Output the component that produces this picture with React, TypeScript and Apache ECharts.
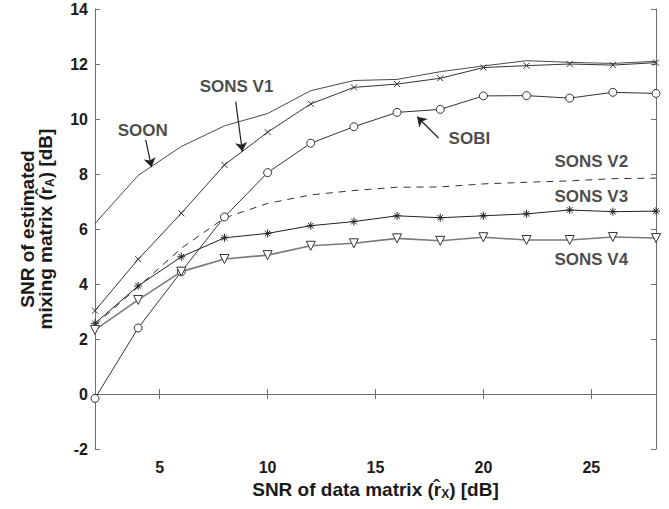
import React, { useEffect, useRef } from "react";
import * as echarts from "echarts";

const xValues = [2, 4, 6, 8, 10, 12, 14, 16, 18, 20, 22, 24, 26, 28];
const soon = [6.2, 7.95, 9.0, 9.75, 10.2, 11.03, 11.4, 11.44, 11.72, 11.93, 12.12, 12.06, 12.02, 12.1];
const sonsV1 = [3.03, 4.9, 6.57, 8.33, 9.52, 10.55, 11.15, 11.27, 11.48, 11.87, 11.94, 12.0, 11.96, 12.05];
const sobi = [-0.16, 2.4, 4.45, 6.44, 8.05, 9.12, 9.72, 10.24, 10.35, 10.84, 10.85, 10.76, 10.97, 10.93];
const sonsV2 = [2.5, 3.9, 5.3, 6.4, 6.93, 7.24, 7.4, 7.52, 7.53, 7.64, 7.7, 7.75, 7.83, 7.85];
const sonsV3 = [2.57, 3.93, 4.99, 5.68, 5.84, 6.12, 6.27, 6.48, 6.41, 6.48, 6.55, 6.69, 6.63, 6.65];
const sonsV4 = [2.33, 3.42, 4.45, 4.91, 5.05, 5.39, 5.48, 5.66, 5.57, 5.7, 5.6, 5.6, 5.71, 5.67];

const xTicks = [5, 10, 15, 20, 25];
const yTicks = [-2, 0, 2, 4, 6, 8, 10, 12, 14];

// annotation labels: [x, y, text]
const labels: [number, number, string][] = [
  [4.21, 9.6, "SOON"],
  [8.56, 11.18, "SONS V1"],
  [19.35, 9.29, "SOBI"],
  [25.0, 8.45, "SONS V2"],
  [25.0, 7.18, "SONS V3"],
  [25.0, 4.89, "SONS V4"],
];
// arrows: [[x1, y1], [x2, y2]]
const arrows: [number, number][][] = [
  [[4.35, 9.24], [4.62, 8.25]],
  [[8.52, 10.63], [8.83, 8.82]],
  [[17.92, 9.31], [16.93, 10.08]],
];

const FONT = "'Liberation Sans', Arial, Helvetica, sans-serif";
const TXT = "#1a1a1a";
const AXC = "#6e6e6e";

const xMark = "path://M0,0L10,10M10,0L0,10";
const star = "path://M5,0L5,10M0,5L10,5M1.5,1.5L8.5,8.5M8.5,1.5L1.5,8.5";
const triDown = "path://M0,0L10,0L5,9Z";

function pairs(v: number[]) {
  return xValues.map((x, i) => [x, v[i]]);
}

export default function App() {
  const ref = useRef<HTMLDivElement>(null);
  useEffect(() => {
    if (!ref.current) return;
    const chart = echarts.init(ref.current, undefined, { renderer: "svg" });
    const axisCommon = {
      min: 2,
      max: 28,
      type: "value" as const,
      splitLine: { show: false },
      axisLine: { show: true, lineStyle: { color: AXC, width: 1 } },
    };
    const yCommon = {
      min: yTicks[0],
      max: yTicks[yTicks.length - 1],
      interval: 2,
      type: "value" as const,
      splitLine: { show: false },
      axisLine: { show: true, lineStyle: { color: AXC, width: 1 } },
    };
    const lineSeries = (
      name: string,
      data: number[],
      color: string,
      symbol: string,
      symbolSize: number,
      extra: any = {}
    ) => ({
      name,
      type: "line",
      data: pairs(data),
      symbol,
      symbolSize,
      showSymbol: symbol !== "none",
      lineStyle: { color, width: 1, ...(extra.lineStyle || {}) },
      itemStyle: extra.itemStyle || { color: "none", borderColor: color, borderWidth: 1 },
      z: extra.z || 2,
    });
    const subStyle = { fontSize: 12, fontWeight: "bold", fontFamily: FONT, color: TXT, padding: [9, 0, 0, 0] };
    chart.setOption({
      animation: false,
      backgroundColor: "#ffffff",
      textStyle: { fontFamily: FONT },
      grid: { left: 95, right: 13, top: 9, bottom: 60, containLabel: false },
      xAxis: [
        {
          ...axisCommon,
          position: "bottom",
          axisTick: { show: true, inside: true, length: 5, customValues: xTicks, lineStyle: { color: AXC } },
          axisLabel: {
            show: true,
            customValues: xTicks,
            margin: 10,
            color: TXT,
            fontSize: 16,
            fontWeight: "bold",
            fontFamily: FONT,
          },
          name: "SNR of data matrix (r\u0302{sub|X}) [dB]",
          nameLocation: "middle",
          nameGap: 20,
          nameTextStyle: {
            color: TXT,
            fontSize: 19,
            fontWeight: "bold",
            fontFamily: FONT,
            verticalAlign: "top",
            rich: { sub: subStyle },
          },
        },
        {
          ...axisCommon,
          position: "top",
          axisTick: { show: true, inside: true, length: 5, customValues: xTicks, lineStyle: { color: AXC } },
          axisLabel: { show: false },
        },
      ],
      yAxis: [
        {
          ...yCommon,
          position: "left",
          axisTick: { show: true, inside: true, length: 5, lineStyle: { color: AXC } },
          axisLabel: {
            show: true,
            margin: 7,
            color: TXT,
            fontSize: 16,
            fontWeight: "bold",
            fontFamily: FONT,
          },
          name: "SNR of estimated\nmixing matrix (r\u0302{sub|A}) [dB]",
          nameLocation: "middle",
          nameGap: 40,
          nameRotate: 90,
          nameTextStyle: {
            color: TXT,
            fontSize: 19,
            fontWeight: "bold",
            fontFamily: FONT,
            lineHeight: 18.5,
            align: "center",
            rich: { sub: subStyle },
          },
        },
        {
          ...yCommon,
          position: "right",
          axisTick: { show: true, inside: true, length: 5, lineStyle: { color: AXC } },
          axisLabel: { show: false },
        },
      ],
      series: [
        lineSeries("SOON", soon, "#4a4a4a", "none", 0),
        lineSeries("SONS V1", sonsV1, "#333333", xMark, 6),
        lineSeries("SOBI", sobi, "#333333", "circle", 8, {
          itemStyle: { color: "#ffffff", borderColor: "#333333", borderWidth: 1 },
        }),
        lineSeries("SONS V2", sonsV2, "#333333", "none", 0, {
          lineStyle: { type: [7, 6] },
        }),
        lineSeries("SONS V3", sonsV3, "#222222", star, 8),
        lineSeries("SONS V4", sonsV4, "#7a7a7a", triDown, 9, {
          lineStyle: { width: 1.6 },
          itemStyle: { color: "#ffffff", borderColor: "#333333", borderWidth: 1 },
        }),
        {
          name: "arrows",
          type: "lines",
          coordinateSystem: "cartesian2d",
          symbol: ["none", "arrow"],
          symbolSize: [0, 9],
          lineStyle: { color: "#222222", width: 1.2, opacity: 1 },
          data: arrows.map((a) => ({ coords: a })),
          z: 5,
        },
        {
          name: "labels",
          type: "scatter",
          symbolSize: 0,
          data: labels.map((l) => [l[0], l[1], l[2]]),
          label: {
            show: true,
            position: "inside",
            formatter: (p: any) => p.data[2],
            color: TXT,
            fontSize: 17,
            fontWeight: "bold",
            fontFamily: FONT,
          },
          z: 6,
        },
      ],
    });
    return () => chart.dispose();
  }, []);
  return (
    <div
      ref={ref}
      style={{ position: "absolute", left: 0, top: 0, width: 669, height: 509 }}
    />
  );
}
